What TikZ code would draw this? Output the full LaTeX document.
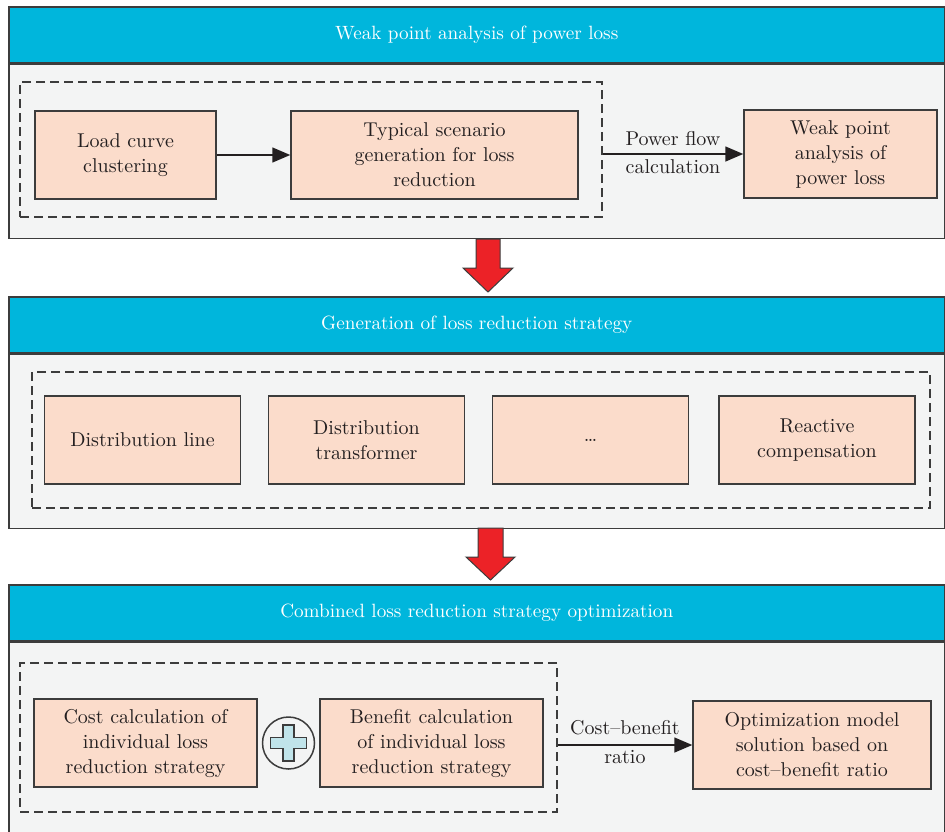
\documentclass[tikz,border=0pt]{standalone}
\usetikzlibrary{positioning, arrows.meta, calc}

\definecolor{hdrblue}{HTML}{00B6DC}
\definecolor{bodygray}{HTML}{F3F4F4}
\definecolor{boxpeach}{HTML}{FBDCCB}
\definecolor{arrred}{HTML}{EC2227}
\definecolor{plusblue}{HTML}{C0E4EA}
\definecolor{linegray}{HTML}{3C3C3C}
\definecolor{textdark}{HTML}{231F20}

\begin{document}
\begin{tikzpicture}[
    x = 0.5pt, y = -0.5pt,
    hdr/.style = {
      rectangle, draw = linegray, line width = 0.75pt, fill = hdrblue,
      minimum width = 468pt, minimum height = 28pt,
      text = white, font = \fontsize{9.6}{11.5}\selectfont
    },
    body/.style = {
      rectangle, draw = linegray, line width = 0.75pt, fill = bodygray,
      minimum width = 468pt
    },
    dashgroup/.style = {
      rectangle, draw = linegray, line width = 0.65pt,
      dash pattern = on 4.5pt off 2.5pt
    },
    box/.style = {
      rectangle, draw = linegray, line width = 0.75pt, fill = boxpeach,
      minimum height = 44pt, align = center, inner sep = 2pt,
      font = \fontsize{10}{12.5}\selectfont, text = textdark
    },
    lbl/.style = {font = \fontsize{10}{12.5}\selectfont, text = textdark, align = center},
    arr/.style = {-{Triangle[length=9pt, width=7.5pt]}, line width = 0.75pt, draw = textdark},
    bigarrow/.style = {fill = arrred, draw = linegray, line width = 0.5pt},
    plusring/.style = {circle, draw = linegray, line width = 0.75pt, fill = bodygray, minimum size = 26pt, inner sep = 0pt},
    plusfill/.style = {fill = plusblue, draw = linegray, line width = 0.65pt}
  ]

  \useasboundingbox (0,0) rectangle (945,831);

  % ---- Panel 1: weak point analysis ----
  \node[hdr, anchor = north west] (h1) at (8,6) {Weak point analysis of power loss};
  \node[body, anchor = north, minimum height = 87pt] (b1) at (h1.south) {};

  \node[dashgroup, minimum width = 291pt, minimum height = 67.5pt] (g1) at (311,149.5) {};
  \node[box, minimum width = 90.5pt] (load) at (125.5,155) {Load curve\\clustering};
  \node[box, minimum width = 143.5pt] (scen) at (434.5,155) {Typical scenario\\generation for loss\\reduction};
  \node[box, minimum width = 96.5pt] (weak) at (840.5,154) {Weak point\\analysis of\\power loss};

  \draw[arr] (load) -- (scen);
  \draw[arr] (g1.east |- weak.west) -- node[lbl, above = 0.5pt] {Power flow} node[lbl, below = -1pt] {calculation} (weak.west);

  % big arrow 1 -> 2
  \coordinate (d1) at (488,239);
  \draw[bigarrow, shift = {(d1)}] (-12,0) -- (12,0) -- (12,29) -- (25,29) -- (0,53) -- (-25,29) -- (-12,29) -- cycle;

  % ---- Panel 2: generation of strategy ----
  \node[hdr, anchor = north west] (h2) at (8,296) {Generation of loss reduction strategy};
  \node[body, anchor = north, minimum height = 87pt] (b2) at (h2.south) {};

  \node[dashgroup, minimum width = 449pt, minimum height = 68pt] (g2) at (481,440) {};
  \node[box, minimum width = 98pt] (line)  at (142.5,440) {Distribution line};
  \node[box, minimum width = 98pt] (trafo) at (366.5,440) {Distribution\\transformer};
  \node[box, minimum width = 98pt] (more)  at (590.5,440) {\dots};
  \node[box, minimum width = 98pt] (react) at (817,440)   {Reactive\\compensation};

  % big arrow 2 -> 3
  \coordinate (d2) at (490.5,528);
  \draw[bigarrow, shift = {(d2)}] (-12.5,0) -- (12.5,0) -- (12.5,29) -- (24.5,29) -- (0,52) -- (-24.5,29) -- (-12.5,29) -- cycle;

  % ---- Panel 3: combined optimization ----
  \node[hdr, anchor = north west] (h3) at (8,584) {Combined loss reduction strategy optimization};
  \node[body, anchor = north, minimum height = 98pt] (b3) at (h3.south) {};

  \node[dashgroup, minimum width = 268.5pt, minimum height = 74.5pt] (g3) at (288.5,737.5) {};
  \node[box, minimum width = 111.5pt] (cost)  at (145.5,743) {Cost calculation of\\individual loss\\reduction strategy};
  \node[plusring] (plus) at (288.5,743) {};
  \draw[plusfill, shift = {(plus.center)}]
    (-5.5,-18) -- (5.5,-18) -- (5.5,-5.5) -- (18,-5.5) -- (18,5.5) -- (5.5,5.5) --
    (5.5,18) -- (-5.5,18) -- (-5.5,5.5) -- (-18,5.5) -- (-18,-5.5) -- (-5.5,-5.5) -- cycle;
  \node[box, minimum width = 111.5pt] (benef) at (431.5,743) {Benefit calculation\\of individual loss\\reduction strategy};
  \node[box, minimum width = 119pt] (opt)   at (812,745)   {Optimization model\\solution based on\\cost–benefit ratio};

  \draw[arr] (g3.east |- opt.west) -- node[lbl, above = 1.5pt] {Cost–benefit} node[lbl, below = -1pt] {ratio} (opt.west);

\end{tikzpicture}
\end{document}
